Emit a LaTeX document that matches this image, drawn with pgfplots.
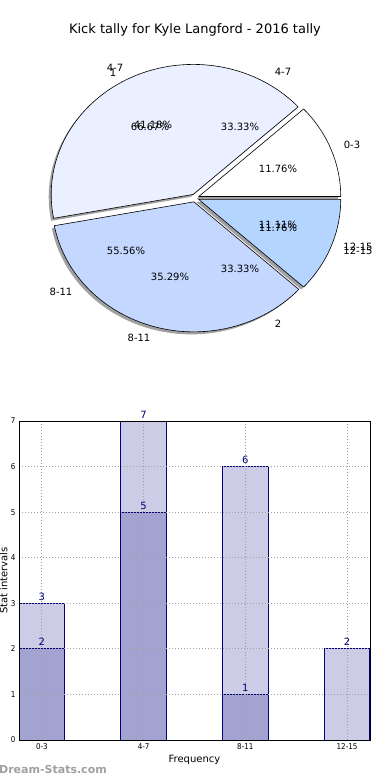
\documentclass[border=0pt]{standalone}
\usepackage{fontspec}
\setmainfont{DejaVu Sans}
\newfontfamily\condfont{DejaVu Sans Condensed}
\usepackage{pgfplots}
\pgfplotsset{compat=1.18}
\usetikzlibrary{calc}
\definecolor{navyc}{RGB}{0,0,128}
\definecolor{lightbar}{RGB}{204,204,230}
\definecolor{darkbar}{RGB}{163,163,209}
\definecolor{pieB}{RGB}{234,240,255}
\definecolor{pieC}{RGB}{196,215,255}
\definecolor{pieD}{RGB}{180,213,255}
\definecolor{gridc}{RGB}{160,160,160}
\definecolor{wm}{RGB}{160,160,160}
\definecolor{shad}{RGB}{120,120,120}

% pie wedge: #1 start angle, #2 end angle, #3 path style, #4 extra shift
\newcommand\pwedge[4]{%
  \path[#3] ($(axis cs:{4*cos((#1+#2)/2)},{4*sin((#1+#2)/2)})+#4$)
    -- ++({#1}:142bp and 130bp)
    arc[start angle={#1}, end angle={#2}, x radius=142bp, y radius=130bp]
    -- cycle;}

\begin{document}
\begin{tikzpicture}
\useasboundingbox (0,0) rectangle (390bp,780bp);
% pie values (kicks per interval): 0-3, 4-7, 8-11, 12-15
\def\vA{2}\def\vB{7}\def\vC{6}\def\vD{2}
\pgfmathsetmacro\tot{\vA+\vB+\vC+\vD}
\pgfmathsetmacro\aA{0}
\pgfmathsetmacro\aB{\aA+360*\vA/\tot}
\pgfmathsetmacro\aC{\aB+360*\vB/\tot}
\pgfmathsetmacro\aD{\aC+360*\vC/\tot}
\pgfmathsetmacro\aE{\aD+360*\vD/\tot}

\begin{axis}[at={(0bp,390bp)}, anchor=south west, x=1bp, y=1bp,
  xmin=-195, xmax=195, ymin=-192, ymax=198, hide axis, clip=false]
  % shadows
  \pwedge{\aA}{\aB}{fill=shad!70}{(-2.5bp,-2.5bp)}
  \pwedge{\aB}{\aC}{fill=shad!70}{(-2.5bp,-2.5bp)}
  \pwedge{\aC}{\aD}{fill=shad!70}{(-2.5bp,-2.5bp)}
  \pwedge{\aD}{\aE}{fill=shad!70}{(-2.5bp,-2.5bp)}
  % wedges
  \pwedge{\aA}{\aB}{fill=white, draw=black, line width=0.6bp, line join=round}{(0bp,0bp)}
  \pwedge{\aB}{\aC}{fill=pieB, draw=black, line width=0.6bp, line join=round}{(0bp,0bp)}
  \pwedge{\aC}{\aD}{fill=pieC, draw=black, line width=0.6bp, line join=round}{(0bp,0bp)}
  \pwedge{\aD}{\aE}{fill=pieD, draw=black, line width=0.6bp, line join=round}{(0bp,0bp)}
  % title
  \node[font=\fontsize{13bp}{15bp}\selectfont] at (axis cs:0,168) {Kick tally for Kyle Langford - 2016 tally};
  % outer labels
  \begin{scope}[every node/.style={font=\fontsize{10bp}{12bp}\selectfont, inner sep=0pt}]
  \node at (axis cs:-80,130) {4-7};
  \node at (axis cs:-82,125) {1};
  \node at (axis cs:88,126) {4-7};
  \node at (axis cs:157,53) {0-3};
  \node at (axis cs:163,-49) {12-15};
  \node at (axis cs:163,-53) {12-15};
  \node at (axis cs:83,-126) {2};
  \node at (axis cs:-134,-94) {8-11};
  \node at (axis cs:-56,-140) {8-11};
  % inner percentage labels
  \node at (axis cs:-42,73) {41.18\%};
  \node at (axis cs:-45,71) {66.67\%};
  \node at (axis cs:45,71) {33.33\%};
  \node at (axis cs:83,29) {11.76\%};
  \node at (axis cs:83,-27) {11.11\%};
  \node at (axis cs:83,-30) {11.76\%};
  \node at (axis cs:-69,-53) {55.56\%};
  \node at (axis cs:-25,-79) {35.29\%};
  \node at (axis cs:45,-71) {33.33\%};
  \end{scope}
\end{axis}

\begin{axis}[at={(19bp,40bp)}, anchor=south west, scale only axis,
  width=351bp, height=319bp,
  xmin=-0.225, xmax=3.225, ymin=0, ymax=7,
  ybar, bar width=0.447, bar shift=0pt,
  xtick={0,1,2,3}, xticklabels={0-3,4-7,8-11,12-15},
  ytick={0,1,2,3,4,5,6,7},
  major tick length=0pt,
  grid=major, grid style={gridc, line width=0.9bp, dash pattern=on 1.2bp off 1.8bp},
  axis on top, axis line style={line width=0.8bp},
  tick label style={font=\condfont\fontsize{8bp}{9bp}\selectfont},
  /pgf/number format/assume math mode=true,
  xlabel={Frequency}, ylabel={Stat intervals},
  label style={font=\fontsize{10bp}{12bp}\selectfont},
  xlabel style={at={(axis description cs:0.5,0)}, anchor=center, yshift=-20bp},
  ylabel style={at={(axis description cs:-0.044,0.5)}, anchor=center},
  clip=false,
  nodes near coords,
  nodes near coords style={font=\fontsize{10bp}{12bp}\selectfont, text=navyc, anchor=south, inner sep=2.5bp},
]
\addplot[fill=lightbar, draw=navyc, line width=0.9bp] coordinates {(0,3) (1,7) (2,6) (3,2)};
\addplot[fill=darkbar, draw=navyc, line width=0.9bp] coordinates {(0,2) (1,5) (2,1)};
\node[anchor=west, text=wm, font=\bfseries\fontsize{11bp}{13bp}\selectfont, inner sep=0pt]
  at (axis description cs:-0.057,-0.094) {Dream-Stats.com};
\end{axis}
\end{tikzpicture}
\end{document}
